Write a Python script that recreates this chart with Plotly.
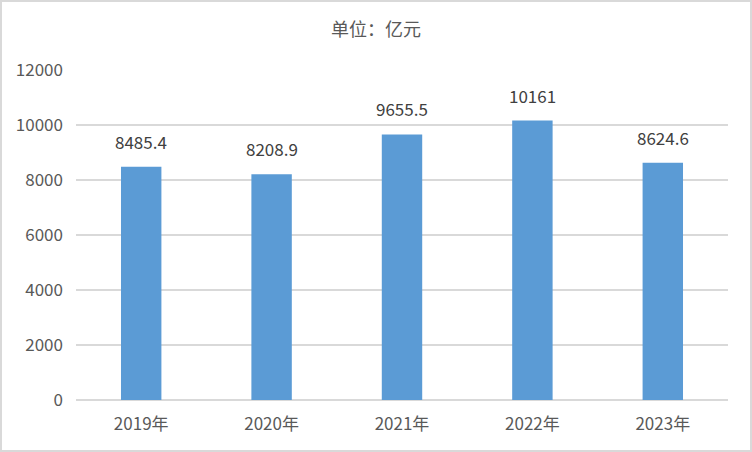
import plotly.graph_objects as go

categories = ["2019年", "2020年", "2021年", "2022年", "2023年"]
values = [8485.4, 8208.9, 9655.5, 10161, 8624.6]
value_labels = ["8485.4", "8208.9", "9655.5", "10161", "8624.6"]
y_ticks = [0, 2000, 4000, 6000, 8000, 10000, 12000]

FONT = "Noto Sans CJK SC, Noto Sans, sans-serif"
TXT = "#595959"

fig = go.Figure()
fig.add_trace(go.Bar(x=categories, y=values, marker=dict(color="#5B9BD5", line=dict(width=0)),
                     hoverinfo="x+y"))

for c, v, t in zip(categories, values, value_labels):
    fig.add_annotation(x=c, y=v, text=t, showarrow=False, yanchor="bottom", yshift=11,
                       font=dict(family=FONT, size=17, color="#404040"))

L, R, T, B = 76, 24, 70, 52
W, H = 752, 452
pw, ph = W - L - R, H - T - B

fig.add_shape(type="rect", xref="paper", yref="paper",
              x0=-(L - 1) / pw, x1=1 + (R - 1) / pw, y0=-(B - 1) / ph, y1=1 + (T - 1) / ph,
              line=dict(color="#d9d9d9", width=2), fillcolor="rgba(0,0,0,0)", layer="below")

fig.update_layout(
    width=W, height=H,
    margin=dict(l=L, r=R, t=T, b=B),
    paper_bgcolor="white", plot_bgcolor="white",
    bargap=0.69,
    showlegend=False,
    font=dict(family=FONT, size=16, color=TXT),
    title=dict(text="单位：亿元", x=0.5, xref="container", xanchor="center", y=1 - 30 / H, yanchor="middle",
               font=dict(family=FONT, size=18, color=TXT)),
    xaxis=dict(showgrid=False, showline=False, zeroline=False, ticks="", ticklabelstandoff=12,
               tickfont=dict(family=FONT, size=17, color=TXT)),
    yaxis=dict(range=[0, 12000], tickvals=y_ticks, ticktext=[str(v) for v in y_ticks],
               showgrid=True, gridcolor="#d9d9d9", gridwidth=1.5, zeroline=True, zerolinecolor="#d9d9d9",
               zerolinewidth=1.5, showline=False, ticks="", ticklabelstandoff=12,
               tickfont=dict(family=FONT, size=17, color=TXT)),
)

fig.write_html("out.html", config={"displayModeBar": False},
               post_script="document.body.style.margin='0';")
